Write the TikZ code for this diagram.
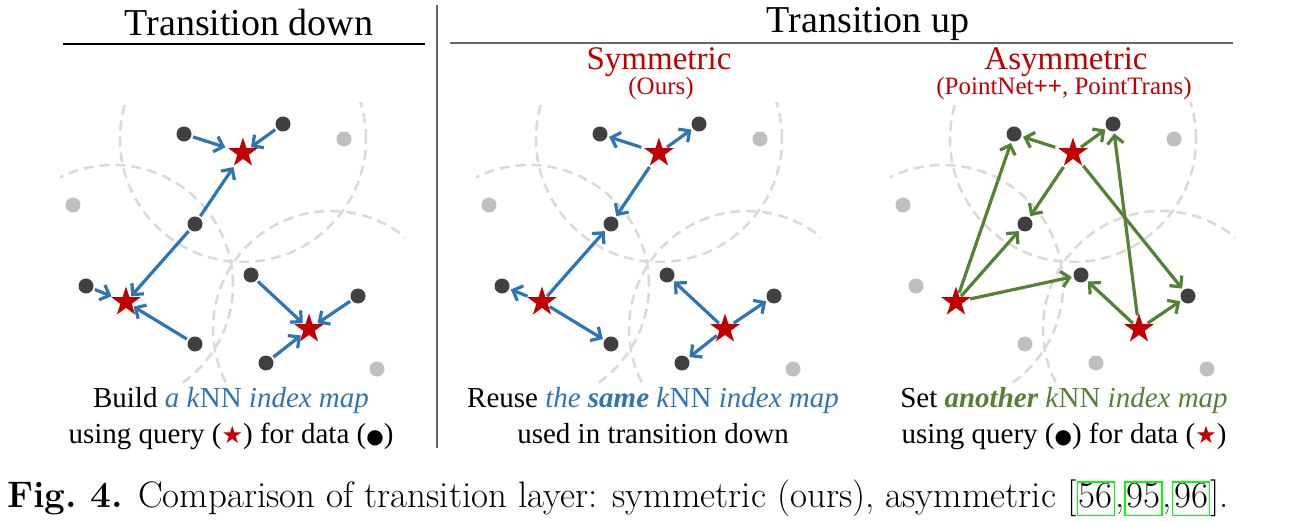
\documentclass[tikz,border=0pt]{standalone}
\usepackage{fontspec}
\newfontfamily\tms{Liberation Serif}
\newfontfamily\djv{DejaVu Sans}
\usetikzlibrary{shapes.geometric,arrows.meta}
\definecolor{starred}{HTML}{C00000}
\definecolor{arrblue}{HTML}{2E75B6}
\definecolor{arrgreen}{HTML}{548235}
\definecolor{dotdark}{HTML}{404040}
\definecolor{dotgray}{HTML}{BFBFBF}
\definecolor{circgray}{HTML}{D9D9D9}
\definecolor{citegreen}{HTML}{00FF00}
\tikzset{
  qstar/.style={star, star points=5, star point ratio=2.618, minimum size=31pt, inner sep=0pt, fill=starred, outer sep=1pt},
  ddot/.style={circle, minimum size=15pt, inner sep=0pt, fill=dotdark, outer sep=2pt},
  gdot/.style={circle, minimum size=15pt, inner sep=0pt, fill=dotgray},
  knn/.style={line width=3.2pt, -{Straight Barb[length=8pt,width=16pt]}},
  barrow/.style={knn, draw=arrblue},
  garrow/.style={knn, draw=arrgreen},
  ball/.style={draw=circgray, line width=2.5pt, dash pattern=on 10pt off 6pt},
  head/.style={anchor=base, inner sep=0pt, font=\tms\fontsize{38pt}{44pt}\selectfont},
  sub/.style={anchor=base, inner sep=0pt, text=starred, font=\tms\fontsize{33pt}{38pt}\selectfont},
  subsub/.style={anchor=base, inner sep=0pt, text=starred, font=\tms\fontsize{25pt}{30pt}\selectfont},
  desc/.style={anchor=base, inner sep=0pt, font=\tms\fontsize{29pt}{34pt}\selectfont},
}
\newcommand\kballs{%
  \begin{scope}
    \clip (60,103) rectangle (405,383);
    \draw[ball] (243,139) circle[radius=123pt];
    \draw[ball] (113,285) circle[radius=120pt];
    \draw[ball] (331,329) circle[radius=118pt];
  \end{scope}}
\newcommand\kpts[2]{%
  \node[gdot] (#1g1) at (344,139) {};
  \node[gdot] (#1g2) at (73,205) {};
  \node[gdot] (#1g3) at (377,369) {};
  \node[ddot] (#1a1) at (184,134) {};
  \node[ddot] (#1a2) at (283,124) {};
  \node[ddot] (#1m) at (195,224) {};
  \node[#2] (#1b1) at (86,286) {};
  \node[#2] (#1b2) at (195,344) {};
  \node[ddot] (#1c1) at (251,275) {};
  \node[ddot] (#1c2) at (358,296) {};
  \node[#2] (#1c3) at (266,363) {};
  \node[qstar] (#1A) at (243,153) {};
  \node[qstar] (#1B) at (126,302) {};
  \node[qstar] (#1C) at (309,329) {};}
\newcommand\qstr{{\djv\fontsize{24pt}{24pt}\selectfont\textcolor{starred}{★}}}
\newcommand\qdot{{\djv\fontsize{20pt}{20pt}\selectfont ●}}
\newcommand\citebx[1]{{\setlength\fboxsep{0pt}\setlength\fboxrule{1.3pt}\color{citegreen}\fbox{\color{black}\rule[-8pt]{0pt}{30pt}\hspace{1pt}#1\hspace{1pt}}}}
\begin{document}
\begin{tikzpicture}[x=1pt,y=-1pt]
\useasboundingbox (0,0) rectangle (1306,521);
\fill[white] (0,0) rectangle (1306,521);
% headings
\node[head] (tdown) at (249,36) {Transition down};
\node[head] (tup) at (868,33) {Transition up};
\draw[line width=1.3pt, black] (63,44) -- (425,44);
\draw[line width=1.3pt, black!60] (450,43) -- (1233,43);
\draw[line width=1.3pt, black!60] (437,5) -- (437,448);
\node[sub] (sym) at (659,70) {Symmetric};
\node[subsub] (ours) at (661,95) {(Ours)};
\node[sub] (asym) at (1066,70) {Asymmetric};
\node[subsub] (pn) at (1064,95) {(PointNet\textbf{++}, PointTrans)};
% panel 1
\begin{scope}
  \kballs
  \kpts{L}{ddot}
\end{scope}
\foreach \s/\t in {a1/A,a2/A,m/A,m/B,b1/B,b2/B,c1/C,c2/C,c3/C}
  \draw[barrow] (L\s) -- (L\t);
% panel 2
\begin{scope}[xshift=416pt]
  \kballs
  \kpts{M}{ddot}
\end{scope}
\foreach \s/\t in {a1/A,a2/A,m/A,m/B,b1/B,b2/B,c1/C,c2/C,c3/C}
  \draw[barrow] (M\t) -- (M\s);
% panel 3
\begin{scope}[xshift=830pt]
  \kballs
  \kpts{R}{gdot}
\end{scope}
\foreach \s/\t in {A/a1,A/a2,A/m,A/c2,B/a1,B/m,B/c1,C/a2,C/c1,C/c2}
  \draw[garrow] (R\s) -- (R\t);
% descriptions
\node[desc] (d1a) at (231,407) {Build \textcolor{arrblue}{\textit{a k}NN \textit{index map}}};
\node[desc] (d1b) at (231,443) {using query (\qstr) for data (\qdot)};
\node[desc] (d2a) at (653,407) {Reuse \textcolor{arrblue}{\textit{the \textbf{same} k}NN \textit{index map}}};
\node[desc] (d2b) at (653,443) {used in transition down};
\node[desc] (d3a) at (1064,407) {Set \textcolor{arrgreen}{\textit{\textbf{another} k}NN \textit{index map}}};
\node[desc] (d3b) at (1064,443) {using query (\qdot) for data (\qstr)};
% caption
\node[anchor=base west, inner sep=0pt, font=\fontsize{36.9pt}{40pt}\selectfont] (cap) at (7,507)
  {\textbf{Fig.~4.} Comparison of transition layer: symmetric (ours), asymmetric [\citebx{56},\citebx{95},\citebx{96}].};
\end{tikzpicture}
\end{document}
